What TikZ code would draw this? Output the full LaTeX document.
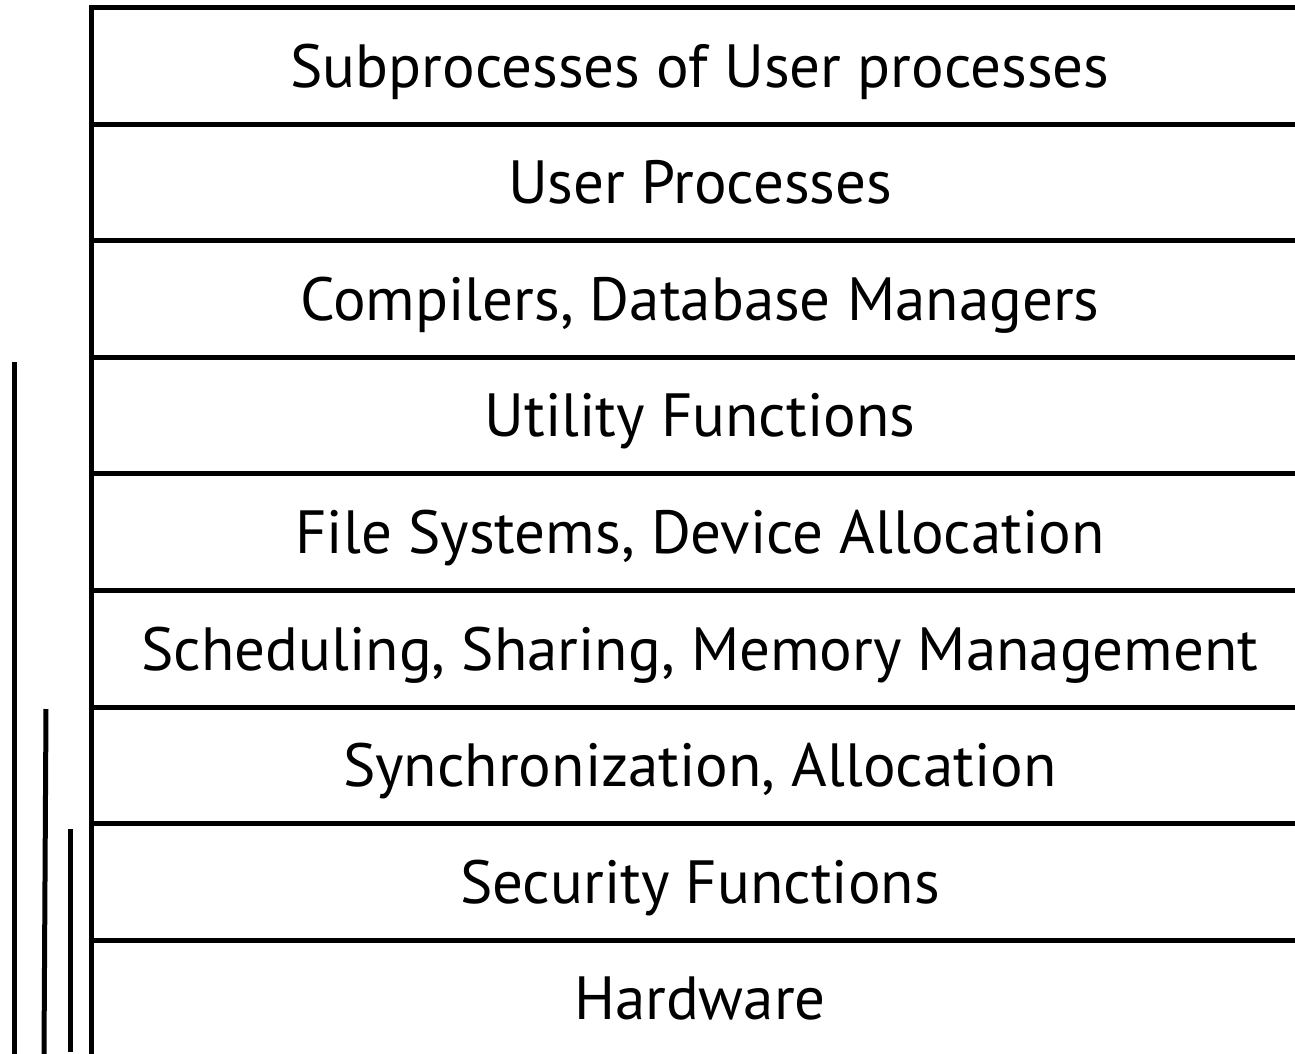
\documentclass[tikz,border=0pt]{standalone}
\usepackage{fontspec}
\setmainfont{PT Sans}[Ligatures=NoCommon]
\begin{document}
\begin{tikzpicture}[x=1bp,y=-1bp,
  rule/.style={line width=5bp,line cap=butt},
  layer/.style={anchor=base,inner sep=0pt,font=\fontsize{61bp}{72bp}\selectfont}]
\useasboundingbox (0,0) rectangle (1295,1054);
% layer boundaries
\foreach \i in {0,...,8}
  \draw[rule] (91,{7.5+116.6*\i}) -- (1295,{7.5+116.6*\i});
% main spine
\draw[rule] (91.9,5) -- (91.9,1054);
% side bars
\draw[rule] (14.5,362) -- (14.5,1054);
\draw[rule] (46,709) -- (44,1054);
\draw[rule] (70.5,829) -- (70.5,1052);
% layer labels
\foreach \t [count=\i from 0] in {Subprocesses of User processes,User Processes,{Compilers, Database Managers},Utility Functions,{File Systems, Device Allocation},{Scheduling, Sharing, Memory Management},{Synchronization, Allocation},Security Functions,Hardware}
  \node[layer] (l\i) at (700,{7.5+116.6*\i+79.5}) {\t};
\end{tikzpicture}
\end{document}
